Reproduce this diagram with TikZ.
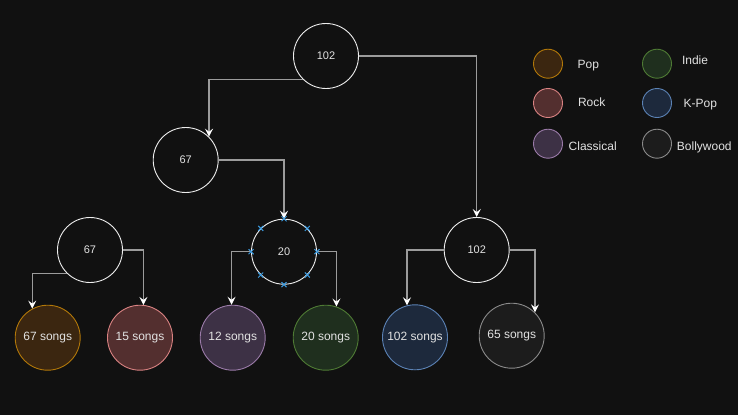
\documentclass[tikz,border=0pt]{standalone}
\usepackage{fontspec}
\setmainfont{Liberation Sans}
\usetikzlibrary{positioning,shapes.misc,arrows.meta}
\definecolor{bg}{HTML}{111111}
\definecolor{txt}{HTML}{E2E2E2}
\definecolor{ring}{HTML}{EEEEEE}
\definecolor{edgegray}{HTML}{9C9C9C}
\definecolor{handleblue}{HTML}{3D9BE0}
\definecolor{popdraw}{HTML}{B27809}
\definecolor{popfill}{HTML}{3B2610}
\definecolor{rockdraw}{HTML}{D98282}
\definecolor{rockfill}{HTML}{532F2F}
\definecolor{classdraw}{HTML}{9A7AA8}
\definecolor{classfill}{HTML}{3D3145}
\definecolor{indiedraw}{HTML}{4E7A34}
\definecolor{indiefill}{HTML}{1F2F1E}
\definecolor{kpopdraw}{HTML}{5B82B5}
\definecolor{kpopfill}{HTML}{1D293C}
\definecolor{bollydraw}{HTML}{8A8A8A}
\definecolor{bollyfill}{HTML}{1C1C1C}

\begin{document}
\begin{tikzpicture}[x=1pt,y=-1pt]
        \tikzstyle{split} = [draw=ring,circle,minimum size=65pt,inner sep=0pt,line width=0.9pt,text=txt,font=\fontsize{11}{13}\selectfont]
        \tikzstyle{leaf} = [circle,minimum size=65pt,inner sep=0pt,line width=0.9pt,text=txt,font=\fontsize{12}{14}\selectfont]
        \tikzstyle{key} = [circle,minimum size=29pt,inner sep=0pt,line width=0.9pt]
        \tikzstyle{keytext} = [text=txt,inner sep=0pt,font=\fontsize{12}{14}\selectfont]
        \tikzstyle{edge} = [draw=edgegray,line width=1.4pt,-{Stealth[length=8pt,width=8pt,inset=3pt,color=white]}]
        \tikzstyle{handle} = [cross out,draw=handleblue,line width=1pt,minimum size=4pt,inner sep=0pt]
        \fill[bg] (0,0) rectangle (738,415);
        \useasboundingbox (0,0) rectangle (738,415);
        % split nodes
        \node [split] (r) at (326,56) {102};
        \node [split] (a) at (185.7,160) {67};
        \node [split] (b) at (476.7,250) {102};
        \node [split] (c) at (90,250) {67};
        \node [split] (d) at (284,251.7) {20};
        % leaves
        \node [leaf,draw=popdraw,fill=popfill] (l1) at (47.7,337.7) {67 songs};
        \node [leaf,draw=rockdraw,fill=rockfill] (l2) at (140,337.7) {15 songs};
        \node [leaf,draw=classdraw,fill=classfill] (l3) at (232.7,337.7) {12 songs};
        \node [leaf,draw=indiedraw,fill=indiefill] (l4) at (325.7,337.7) {20 songs};
        \node [leaf,draw=kpopdraw,fill=kpopfill] (l5) at (415,337.3) {102 songs};
        \node [leaf,draw=bollydraw,fill=bollyfill] (l6) at (511.7,335.7) {65 songs};
        % edges
        \path[edge] (r.225) -| (a.45);
        \path[edge] (r.east) -| (b.north);
        \path[edge] (a.east) -| (d.north);
        \path[edge] (c.225) -| (l1.118);
        \path[edge] (c.east) -| (l2.84);
        \path[edge] (d.west) -| (l3.92);
        \path[edge] (d.east) -| (l4.71);
        \path[edge] (b.west) -| (l5.104);
        \path[edge] (b.east) -| (l6.45);
        \foreach \a in {0,45,...,315}{
          \node [handle] at (d.\a) {};
        }
        % legend
        \foreach \c/\x/\y/\t/\tx/\ty in {pop/548/63.7/Pop/588.3/65.3,rock/548/103/Rock/591.7/102.7,class/548/143.7/Classical/592.7/146,indie/657/63.7/Indie/695/60.7,kpop/657/103/K-Pop/700.3/104.3,bolly/657/143.7/Bollywood/704.3/147.3}{
          \node [key,draw=\c draw,fill=\c fill] (k\c) at (\x,\y) {};
          \node [keytext] (t\c) at (\tx,\ty) {\t};
        }
      \end{tikzpicture}
\end{document}
